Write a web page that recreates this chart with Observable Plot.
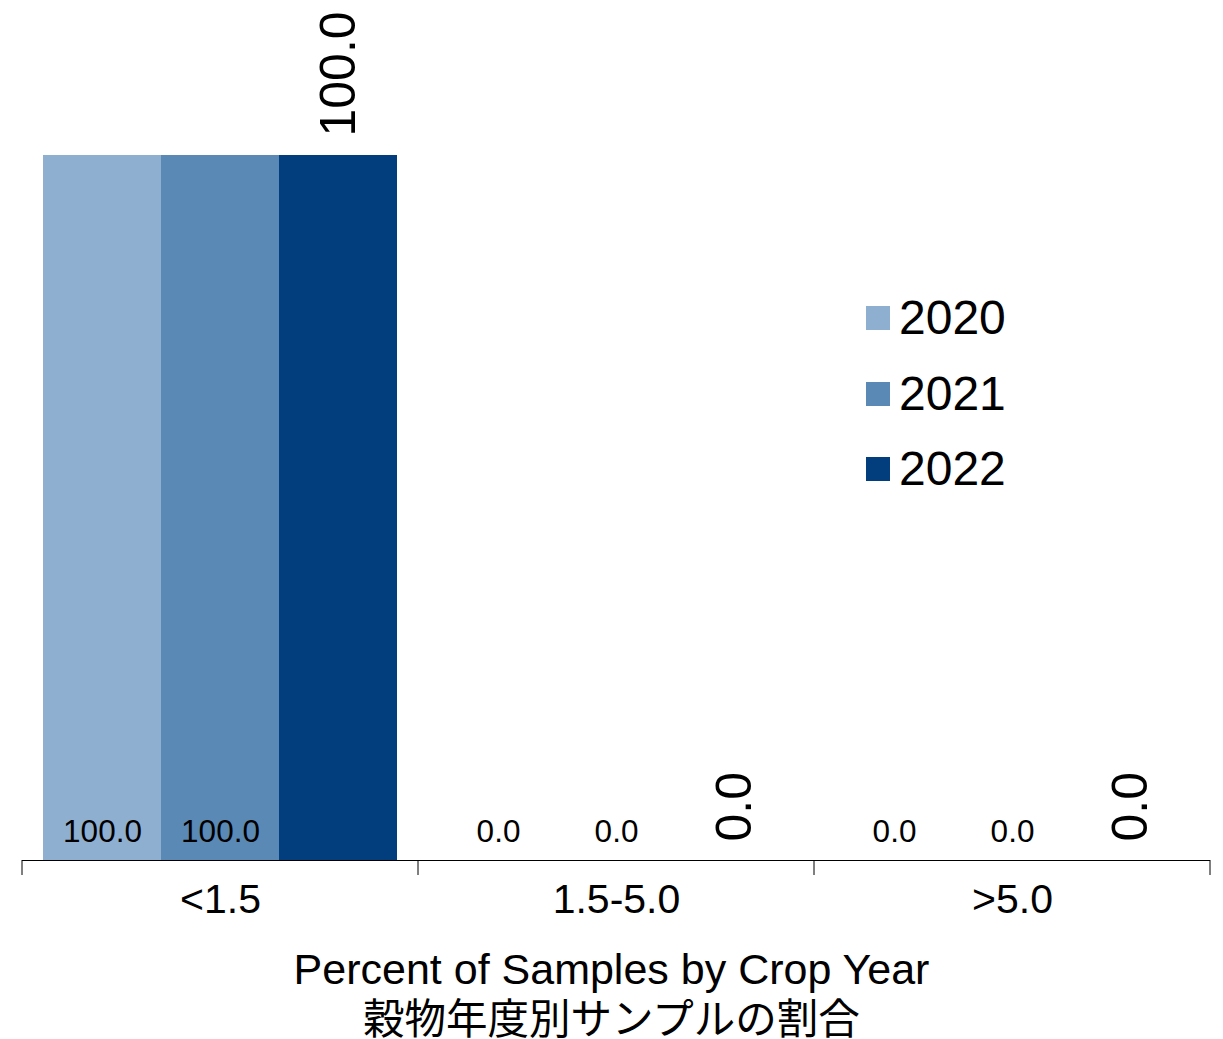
<!DOCTYPE html>
<html>
<head>
<meta charset="utf-8">
<script src="https://cdn.jsdelivr.net/npm/d3@7"></script>
<script src="https://cdn.jsdelivr.net/npm/@observablehq/plot@0.6"></script>
<style>
  html, body { margin: 0; padding: 0; background: #fff; overflow: hidden; }
  #wrap { position: relative; width: 1223px; height: 1039px; font-family: "Liberation Sans", Arial, "Noto Sans CJK JP", sans-serif; }
  #wrap svg { position: absolute; left: 0; top: 0; }
  #legend { position: absolute; left: 866px; top: 293px; }
  .item { display: flex; align-items: center; height: 50px; margin-bottom: 25.5px; }
  .sw { width: 24px; height: 24px; margin-right: 9px; }
  .lab { font-size: 48px; color: #000; line-height: 50px; }
  .tl { position: absolute; left: 0; width: 1223px; text-align: center; color: #000; white-space: nowrap; }
  #t1 { top: 948px; font-size: 43px; line-height: 43px; font-family: "Liberation Sans", Arial, sans-serif; }
  #t2 { top: 996px; font-size: 41.5px; line-height: 41.5px; font-family: "Noto Sans CJK JP", sans-serif; }
</style>
</head>
<body>
<div id="wrap"></div>
<script>
const categories = ["<1.5", "1.5-5.0", ">5.0"];
const years = ["2020", "2021", "2022"];
const values2020 = [100.0, 0.0, 0.0];
const values2021 = [100.0, 0.0, 0.0];
const values2022 = [100.0, 0.0, 0.0];
const colors = ["#8FAFD1", "#5A89B5", "#023E7D"];
const titleLines = ["Percent of Samples by Crop Year", "穀物年度別サンプルの割合"];

const series = [values2020, values2021, values2022];
const rows = [];
categories.forEach((c, i) => {
  years.forEach((y, j) => rows.push({category: c, year: y, value: series[j][i]}));
});

const font = '"Liberation Sans", Arial, sans-serif';

const plot = Plot.plot({
  width: 1223,
  height: 940,
  marginLeft: 22,
  marginRight: 13,
  marginTop: 155,
  marginBottom: 80,
  style: {fontFamily: font, color: "#000", background: "transparent"},
  fx: {domain: categories, padding: 0, label: null},
  x: {domain: years, paddingInner: 0, paddingOuter: 0.1685, axis: null},
  y: {domain: [0, 100], axis: null},
  color: {domain: years, range: colors},
  marks: [
    Plot.barY(rows, {fx: "category", x: "year", y: "value", fill: "year", inset: 0}),
    Plot.text(rows.filter(d => d.year !== "2022"), {
      fx: "category", x: "year", y: 0, text: d => d.value.toFixed(1),
      dy: -19, lineAnchor: "bottom", fontSize: 31.5, fill: "#000"
    }),
    Plot.text(rows.filter(d => d.year === "2022"), {
      fx: "category", x: "year", y: "value", text: d => d.value.toFixed(1),
      rotate: -90, textAnchor: "start", lineAnchor: "middle", dy: -19, fontSize: 50, fill: "#000"
    }),
    Plot.ruleY([0], {stroke: "#000", strokeWidth: 1}),
    Plot.axisFx({anchor: "bottom", tickSize: 0, tickPadding: 23, fontSize: 41, label: null})
  ]
});

// tick marks at category boundaries, positioned from Plot's own fx and y scales
const fxs = plot.scale("fx");
const ys = plot.scale("y");
const y0 = ys.apply(0);
const edges = categories.map(c => fxs.apply(c)).concat([fxs.apply(categories[categories.length - 1]) + fxs.bandwidth]);
const g = d3.select(plot).append("g").attr("stroke", "#000").attr("stroke-width", 1);
edges.forEach(x => {
  g.append("line").attr("x1", x).attr("x2", x).attr("y1", y0).attr("y2", y0 + 15);
});

const wrap = document.getElementById("wrap");
wrap.appendChild(plot);

const legend = document.createElement("div");
legend.id = "legend";
years.forEach((y, i) => {
  const it = document.createElement("div");
  it.className = "item";
  it.innerHTML = `<div class="sw" style="background:${colors[i]}"></div><div class="lab">${y}</div>`;
  legend.appendChild(it);
});
wrap.appendChild(legend);

titleLines.forEach((t, i) => {
  const d = document.createElement("div");
  d.className = "tl";
  d.id = "t" + (i + 1);
  d.textContent = t;
  wrap.appendChild(d);
});
</script>
</body>
</html>
